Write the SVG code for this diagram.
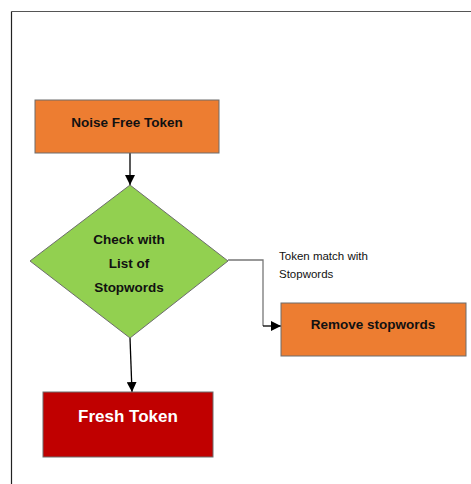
<svg xmlns="http://www.w3.org/2000/svg" width="471" height="484" viewBox="0 0 471 484">
<style>
.box{stroke:#6d6d6d;stroke-width:1}
.orange{fill:#ed7d31}
.t{font-family:"Liberation Sans",Arial,sans-serif;font-weight:bold;font-size:13.5px;fill:#111;text-anchor:middle}
.s{font-family:"Liberation Sans",Arial,sans-serif;font-size:11.5px;fill:#111}
.c{fill:none;stroke:#000;stroke-width:1.3}
.g{fill:none;stroke:#777;stroke-width:1.3}
</style>
<defs>
<marker id="ah" viewBox="0 0 10 10" refX="10" refY="5" markerWidth="10" markerHeight="10" markerUnits="userSpaceOnUse" orient="auto">
<path d="M0,0 L10,5 L0,10 Z" fill="#000"/>
</marker>
</defs>
<rect width="471" height="484" fill="#fff"/>
<g id="frame">
<line x1="11.5" y1="11.5" x2="471" y2="11.5" stroke="#555" stroke-width="1.2"/>
<line x1="11.5" y1="11.5" x2="11.5" y2="484" stroke="#222" stroke-width="1.2"/>
</g>
<g id="connectors">
<line class="c" x1="130" y1="153" x2="130" y2="185" marker-end="url(#ah)"/>
<polyline class="g" points="228,260 263,260 263,326"/>
<line class="c" x1="263" y1="326" x2="281" y2="326" marker-end="url(#ah)"/>
<line class="c" x1="130" y1="338" x2="132" y2="392" marker-end="url(#ah)"/>
</g>
<g id="noise-free-token">
<rect class="box orange" x="35" y="100" width="184" height="53"/>
<text class="t" x="127" y="127">Noise Free Token</text>
</g>
<g id="check-stopwords">
<polygon points="130,185 228,261 130,338 30,261" fill="#92d050" stroke="#6d6d6d" stroke-width="1"/>
<text class="t" x="129" y="244">Check with</text>
<text class="t" x="129" y="268">List of</text>
<text class="t" x="129" y="292">Stopwords</text>
</g>
<g id="edge-label">
<text class="s" x="279" y="260">Token match with</text>
<text class="s" x="279" y="278">Stopwords</text>
</g>
<g id="remove-stopwords">
<rect class="box orange" x="281" y="303" width="185" height="53"/>
<text class="t" x="373" y="329">Remove stopwords</text>
</g>
<g id="fresh-token">
<rect x="43" y="392" width="170" height="65" fill="#c00000" stroke="#6d6d6d" stroke-width="1"/>
<text class="t" x="128" y="422" style="fill:#fff;font-size:17px">Fresh Token</text>
</g>
</svg>
